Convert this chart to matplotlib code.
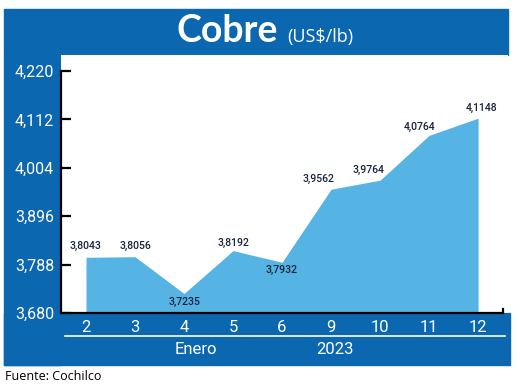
import matplotlib
matplotlib.use('Agg')
import matplotlib.pyplot as plt
from matplotlib.patches import Rectangle
from matplotlib.lines import Line2D

# data
days = ['2', '3', '4', '5', '6', '9', '10', '11', '12']
precio = [3.8043, 3.8056, 3.7235, 3.8192, 3.7932, 3.9562, 3.9764, 4.0764, 4.1148]
etiquetas = ['3,8043', '3,8056', '3,7235', '3,8192', '3,7932', '3,9562', '3,9764', '4,0764', '4,1148']
yticks = [3.680, 3.788, 3.896, 4.004, 4.112, 4.220]
ytick_labels = ['3,680', '3,788', '3,896', '4,004', '4,112', '4,220']

# label offsets (px) from each point
offs = [(0, 11), (0, 11), (0, -8), (0, 8), (0, -8), (-13, 10), (-12, 10), (-10, 8), (3, 10)]

W, H = 520, 387
azul = '#0b67b0'
celeste = '#55b4e4'
fam = ['Roboto', 'DejaVu Sans']

fig = plt.figure(figsize=(W / 100, H / 100), dpi=100)
fig.patch.set_facecolor('white')

def px(x0, y0, x1, y1):
    # pixel box (top-origin) -> figure fraction rect
    return (x0 / W, 1 - y1 / H), (x1 - x0) / W, (y1 - y0) / H

for box in [(4, 9, 508, 55), (4, 55, 60, 365), (4, 313, 510, 365)]:
    xy, w, h = px(*box)
    fig.add_artist(Rectangle(xy, w, h, transform=fig.transFigure, color=azul, zorder=0))

ax = fig.add_axes([61 / W, 1 - 313 / H, (508 - 61) / W, (313 - 55) / H])
ax.set_facecolor('white')
x = list(range(len(days)))
ax.fill_between(x, precio, 3.68, color=celeste, lw=0, zorder=2)

ax.set_xlim(-0.51, 8.61)
ax.set_ylim(3.68, 3.68 + 258 * 0.54 / 242)

for sp in ['top', 'right']:
    ax.spines[sp].set_visible(False)
ax.spines['left'].set_bounds(3.68, 4.22)
ax.spines['left'].set_linewidth(1.6)
ax.spines['bottom'].set_linewidth(1.6)
ax.spines['bottom'].set_bounds(-0.51, 8.5)
ax.spines['bottom'].set_zorder(3)

ax.set_yticks(yticks)
ax.set_yticklabels(ytick_labels, family=fam, fontsize=11.5, color='white')
ax.tick_params(axis='y', direction='in', length=7, width=1.6, pad=5)
ax.set_xticks(x)
ax.set_xticklabels(days, family=fam, fontsize=12, color='white')
ax.tick_params(axis='x', length=0, pad=5)

for i, (v, t) in enumerate(zip(precio, etiquetas)):
    dx, dy = offs[i]
    ax.annotate(t, (i, v), xytext=(dx * 0.72, dy * 0.72), textcoords='offset points',
                ha='center', va='center', fontsize=7.5, family=fam,
                fontweight='medium', color='#14213a', zorder=4)

# small tick at the right end of the x axis
ax.plot([8.5, 8.5], [3.68, 3.688], color='black', lw=1.6, clip_on=False, zorder=3)

# white separator and period labels
fig.add_artist(Line2D([65 / W, 505 / W], [1 - 336 / H, 1 - 336 / H], color='white', lw=1.2))
fig.text(196 / W, 1 - 350 / H, 'Enero', family=fam, fontsize=12, color='white', ha='center', va='center')
fig.text(335 / W, 1 - 350 / H, '2023', family=fam, fontsize=12, color='white', ha='center', va='center')

# title
fig.text(278 / W, 1 - 42 / H, 'Cobre', family='Lato', fontweight='bold', fontsize=27,
         color='white', ha='right', va='baseline')
fig.text(287 / W, 1 - 42 / H, '(US$/lb)', family='Open Sans', fontsize=13,
         color='white', ha='left', va='baseline')

fig.text(5 / W, 1 - 377 / H, 'Fuente: Cochilco', family='Open Sans', fontsize=9,
         color='black', ha='left', va='center')

fig.savefig('out.png', dpi=100)
